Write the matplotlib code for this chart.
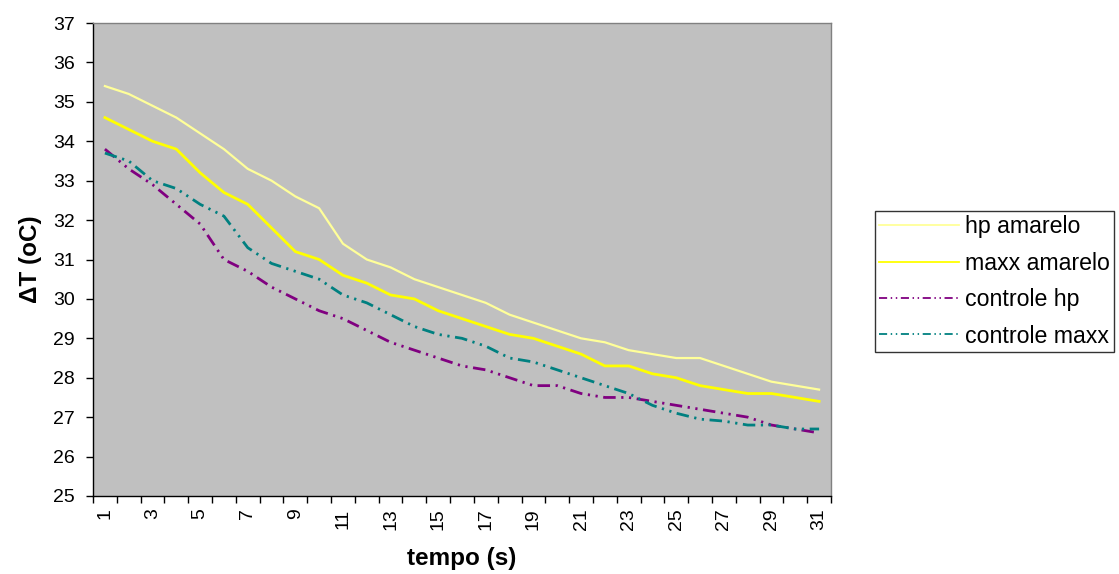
import matplotlib
matplotlib.use("Agg")
import matplotlib.pyplot as plt
import numpy as np

plt.rcParams['font.family'] = ['Liberation Sans', 'DejaVu Sans']

categories = list(range(1, 32))
hp_amarelo = [35.4, 35.2, 34.9, 34.6, 34.2, 33.8, 33.3, 33.0, 32.6, 32.3,
              31.4, 31.0, 30.8, 30.5, 30.3, 30.1, 29.9, 29.6, 29.4, 29.2,
              29.0, 28.9, 28.7, 28.6, 28.5, 28.5, 28.3, 28.1, 27.9, 27.8, 27.7]
maxx_amarelo = [34.6, 34.3, 34.0, 33.8, 33.2, 32.7, 32.4, 31.8, 31.2, 31.0,
                30.6, 30.4, 30.1, 30.0, 29.7, 29.5, 29.3, 29.1, 29.0, 28.8,
                28.6, 28.3, 28.3, 28.1, 28.0, 27.8, 27.7, 27.6, 27.6, 27.5, 27.4]
controle_hp = [33.8, 33.3, 32.9, 32.4, 31.9, 31.0, 30.7, 30.3, 30.0, 29.7,
               29.5, 29.2, 28.9, 28.7, 28.5, 28.3, 28.2, 28.0, 27.8, 27.8,
               27.6, 27.5, 27.5, 27.4, 27.3, 27.2, 27.1, 27.0, 26.8, 26.7, 26.6]
controle_maxx = [33.7, 33.5, 33.0, 32.8, 32.4, 32.1, 31.3, 30.9, 30.7, 30.5,
                 30.1, 29.9, 29.6, 29.3, 29.1, 29.0, 28.8, 28.5, 28.4, 28.2,
                 28.0, 27.8, 27.6, 27.3, 27.1, 26.95, 26.9, 26.8, 26.8, 26.7, 26.7]
series_names = ['hp amarelo', 'maxx amarelo', 'controle hp', 'controle maxx']

W, H = 1119, 574
fig = plt.figure(figsize=(W / 100, H / 100), dpi=100)
ax = fig.add_axes([93 / W, 1 - 496 / H, (831 - 93) / W, (496 - 23) / H])
ax.set_facecolor('#C0C0C0')

x = np.arange(len(categories))
dd = (0, (4.5, 2, 0.8, 2, 0.8, 2))
ax.plot(x, hp_amarelo, color='#FFFF99', lw=1.6, label=series_names[0])
ax.plot(x, maxx_amarelo, color='#FFFF00', lw=2.0, label=series_names[1])
ax.plot(x, controle_hp, color='#800080', lw=2.0, linestyle=dd, label=series_names[2])
ax.plot(x, controle_maxx, color='#008080', lw=2.0, linestyle=dd, label=series_names[3])

ax.set_xlim(-0.5, len(categories) - 0.5)
ax.set_ylim(25, 37)
ax.set_yticks(np.arange(25, 38, 1))
ax.tick_params(axis='y', direction='out', length=5, labelsize=14, width=1, pad=8)

ax.set_xticks(x[::2])
ax.set_xticklabels([str(c) for c in categories[::2]], rotation=90)
ax.set_xticks(np.arange(-0.5, len(categories), 1), minor=True)
ax.tick_params(axis='x', which='major', length=0, labelsize=14, pad=9)
ax.tick_params(axis='x', which='minor', direction='out', length=5, width=1)

for s in ['left', 'bottom']:
    ax.spines[s].set_color('black')
    ax.spines[s].set_linewidth(1)
for s in ['top', 'right']:
    ax.spines[s].set_color('#808080')
    ax.spines[s].set_linewidth(1)

ax.set_xlabel('tempo (s)', fontsize=17.5, fontweight='bold', labelpad=12)
ax.set_ylabel('ΔT (oC)', fontsize=17.5, fontweight='bold', labelpad=8)

leg = fig.legend(loc='upper left', bbox_to_anchor=(875 / W, 1 - 211 / H),
                 fontsize=16.7, frameon=True, fancybox=False, handlelength=3.45,
                 handletextpad=0.25, borderpad=0.18, labelspacing=0.58,
                 borderaxespad=0)
leg.get_frame().set_edgecolor('black')
leg.get_frame().set_linewidth(1)
for h in leg.get_lines():
    h.set_linewidth(1.3)

fig.savefig('out.png', dpi=100)
